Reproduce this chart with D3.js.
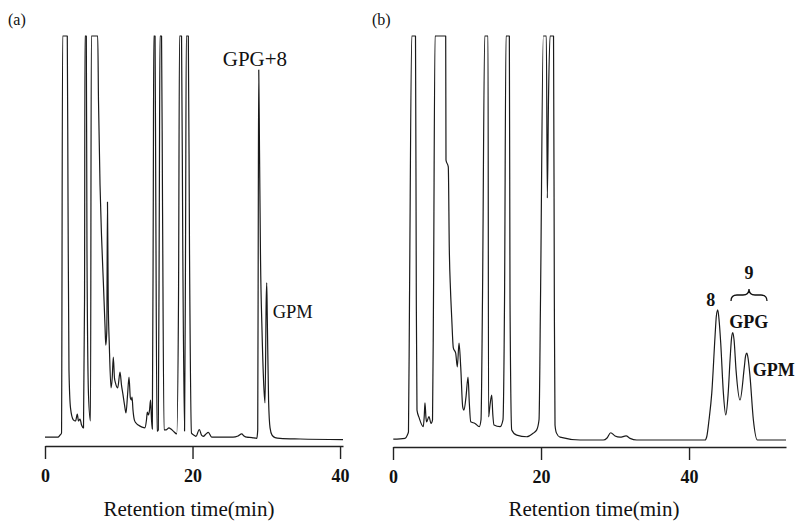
<!DOCTYPE html>
<html>
<head>
<meta charset="utf-8">
<script src="https://cdn.jsdelivr.net/npm/d3@7"></script>
<style>
body { margin: 0; background: #fff; }
svg { display: block; }
</style>
</head>
<body>
<div id="vis"><svg></svg></div>
<script>
// chromatogram (a): retention time (min) and detector response (0-100 = full scale, clipped)
var timeA = [0, 1.76, 2.03, 2.24, 2.39, 3.02, 3.12, 3.25, 3.46, 3.84, 4.14, 4.38, 4.54, 4.75, 4.95, 5.22,
  5.36, 5.42, 5.60, 5.69, 5.90, 6.17, 6.28, 7.15, 7.25, 7.46, 7.66, 7.91, 8.14, 8.24, 8.38, 8.47, 8.57,
  8.72, 8.95, 9.11, 9.26, 9.42, 9.56, 9.86, 10.17, 10.37, 10.54, 10.78, 10.98, 11.19, 11.39, 11.57, 11.70,
  11.80, 11.93, 12.11, 12.34, 12.65, 13.15, 13.56, 13.76, 13.87, 14.03, 14.17, 14.31, 14.44, 14.55,
  14.68, 14.75, 14.92, 15.02, 15.19, 15.36, 15.50, 15.59, 15.80, 15.93, 16.14, 16.41, 16.81, 17.08,
  17.40, 17.86, 18.10, 18.24, 18.51, 18.68, 18.92, 19.05, 19.16, 19.43, 19.59, 19.86, 20.20, 20.47,
  20.92, 21.22, 21.46, 21.83, 22.14, 22.60, 23.73, 25.49, 26.17, 26.67, 26.98, 27.35, 28.07, 28.71,
  28.84, 28.92, 28.98, 29.08, 29.22, 29.42, 29.69, 29.83, 29.99, 30.06, 30.14, 30.31, 30.51, 30.78,
  31.19, 31.86, 34.58, 40.4];
var respA = [0.7, 0.7, 1.2, 1.7, 100, 100, 59.4, 17.3, 7.9, 5.0, 4.7, 6.4, 4.7, 5.2, 3.7, 3.0,
  34.7, 100, 100, 47, 11.1, 4.7, 100, 100, 84.2, 63.1, 50.7, 39.1, 28.0, 23.5, 27.2, 58.9, 34.7,
  23.5, 12.9, 15.3, 20.5, 15.3, 14.1, 12.9, 16.8, 13.6, 11.6, 8.7, 6.7, 11.1, 15.6, 10.4, 9.9,
  10.6, 7.4, 5.0, 4.2, 3.7, 3.2, 3.0, 5.0, 6.9, 6.2, 7.4, 9.9, 5.0, 2.7,
  59.4, 100, 100, 59.4, 2.2, 2.5, 59.4, 100, 100, 59.4, 2.5, 2.5, 3.0, 2.7,
  2.2, 1.5, 34.7, 100, 100, 47.0, 2.2, 47.0, 100, 100, 47.0, 1.7, 1.2, 0.9,
  2.6, 1.2, 0.9, 1.5, 1.9, 0.7, 0.7, 0.7, 1.0, 1.5, 1.0, 0.7, 0.6, 0.4,
  2.5, 59.4, 91.6, 71.8, 44.6, 27.2, 12.4, 9.2, 34.7, 38.9, 29.7, 9.9, 3.0, 1.2,
  0.6, 0.4, 0.25, 0.1];

// chromatogram (b)
var timeB = [0.04, 1.62, 1.93, 2.09, 2.23, 2.53, 3.04, 3.15, 3.24, 3.55, 4.09, 4.23, 4.32, 4.46, 4.55,
  4.86, 5.14, 5.34, 5.47, 5.68, 7.12, 7.16, 7.47, 7.61, 7.77, 7.93, 8.15, 8.47, 8.69, 8.92, 9.15,
  9.42, 9.59, 9.86, 10.14, 10.31, 10.50, 11.08, 11.66, 11.89, 12.09, 12.39, 12.84, 12.91, 13.11,
  13.34, 13.49, 13.65, 14.46, 14.86, 15.07, 15.27, 15.72, 15.81, 16.04, 16.72, 18.07, 18.96, 19.42,
  19.73, 19.93, 20.31, 20.72, 20.85, 21.01, 21.22, 21.69, 21.80, 21.89, 22.09, 22.57, 25.27, 28.42,
  28.92, 29.42, 30.00, 30.68, 31.49, 32.03, 32.93, 38.78, 42.16, 42.39, 42.70, 43.07, 43.51, 43.69,
  43.88, 44.08, 44.28, 44.64, 44.96, 45.27, 45.54, 45.74, 45.91, 46.08, 46.35, 46.89, 47.47, 47.64,
  47.80, 47.97, 48.24, 48.69, 49.23, 50.95, 53.1];
var respB = [0.2, 0.4, 1.2, 2.0, 34.7, 100, 100, 34.7, 7.4, 5.4, 3.3, 6.2, 9.2, 5.4, 4.5,
  5.8, 4.1, 5.0, 34.7, 100, 100, 69.3, 67.6, 47.0, 37.1, 30.4, 22.8, 21.5, 18.1, 24.0, 18.1,
  8.2, 7.4, 10.6, 15.6, 9.2, 4.5, 4.1, 3.3, 5.0, 34.7, 100, 100, 5.7, 8.7,
  11.1, 6.2, 3.7, 3.3, 5.0, 34.7, 100, 100, 34.7, 2.5, 1.2, 0.8, 1.7, 2.5,
  5.0, 34.7, 100, 100, 59.9, 84.2, 100, 100, 34.7, 3.7, 1.7, 0.7, 0, 0,
  0.5, 1.8, 1.0, 0.7, 1.0, 0.4, 0, -0.2, -0.4, 0.8, 5.0, 11.6, 25.6, 30.7,
  32.2, 29.2, 24.0, 11.6, 6.2, 11.1, 19.8, 25.2, 26.6, 24.8, 17.3, 9.9, 18.1, 20.8,
  21.5, 20.3, 15.7, 5.0, 0, -0.4, -0.5];

var ticksA = [0, 20, 40];
var ticksB = [0, 20, 40];
var axisTitle = "Retention time(min)";

var svg = d3.select("#vis").select("svg")
    .attr("width", 796)
    .attr("height", 523);

svg.append("rect").attr("width", 796).attr("height", 523).attr("fill", "#fff");

// scales
var xA = d3.scaleLinear().domain([0, 40.4]).range([45, 343]),
    xB = d3.scaleLinear().domain([0, 53.1]).range([393, 786]),
    y = d3.scaleLinear().domain([0, 100]).range([440, 36]).clamp(true);

var serif = "'Liberation Serif', 'Times New Roman', serif";

function trace(x, times, resp) {
  var line = d3.line()
      .curve(d3.curveMonotoneX)
      .x(function(d) { return x(d[0]); })
      .y(function(d) { return y(d[1]); });
  svg.append("path")
      .datum(d3.zip(times, resp))
      .attr("d", line)
      .attr("fill", "none")
      .attr("stroke", "#1a1a1a")
      .attr("stroke-width", 1.2)
      .attr("stroke-linejoin", "round");
}

function axis(x, ticks, yPos) {
  var g = svg.append("g")
      .attr("transform", "translate(0," + yPos + ")")
      .call(d3.axisBottom(x).tickValues(ticks).tickSize(13).tickSizeOuter(0).tickPadding(10));
  g.select(".domain").attr("stroke", "#222").attr("stroke-width", 1.4);
  g.selectAll(".tick line").attr("stroke", "#222").attr("stroke-width", 1.4);
  g.selectAll(".tick text")
      .attr("fill", "#111")
      .attr("font-family", serif)
      .attr("font-weight", "bold")
      .attr("font-size", 18);
}

trace(xA, timeA, respA);
trace(xB, timeB, respB);
axis(xA, ticksA, 446);
axis(xB, ticksB, 447);

function label(x, yy, txt, size, bold, anchor) {
  svg.append("text")
      .attr("x", x)
      .attr("y", yy)
      .attr("font-family", serif)
      .attr("font-size", size)
      .attr("font-weight", bold ? "bold" : "normal")
      .attr("text-anchor", anchor || "middle")
      .attr("fill", "#111")
      .text(txt);
}

// panel letters
label(8, 25, "(a)", 16, false, "start");
label(372, 25, "(b)", 16, false, "start");

// axis titles
label(189, 516, axisTitle, 21, false);
label(594, 516, axisTitle, 21, false);

// peak names (a)
label(xA(29.0) - 4, 66, "GPG+8", 21, false);
label(xA(30.06) + 6, 318, "GPM", 18.5, false, "start");

// peak names (b)
label(xB(43.88) - 7, 306, "8", 18, true);
label(xB(45.91) + 16, 328, "GPG", 18, true);
label(xB(47.8) + 27, 376, "GPM", 18, true);
label(749, 279, "9", 18, true);

// brace over GPG and GPM
var bl = 731, br = 767, bm = (bl + br) / 2;
svg.append("path")
    .attr("d", "M" + bl + ",301 Q" + bl + ",295 " + (bl + 6) + ",295 L" + (bm - 6) + ",295 Q" + bm + ",295 " + bm + ",289"
      + " Q" + bm + ",295 " + (bm + 6) + ",295 L" + (br - 6) + ",295 Q" + br + ",295 " + br + ",301")
    .attr("fill", "none")
    .attr("stroke", "#111")
    .attr("stroke-width", 1.3);
</script>
</body>
</html>
